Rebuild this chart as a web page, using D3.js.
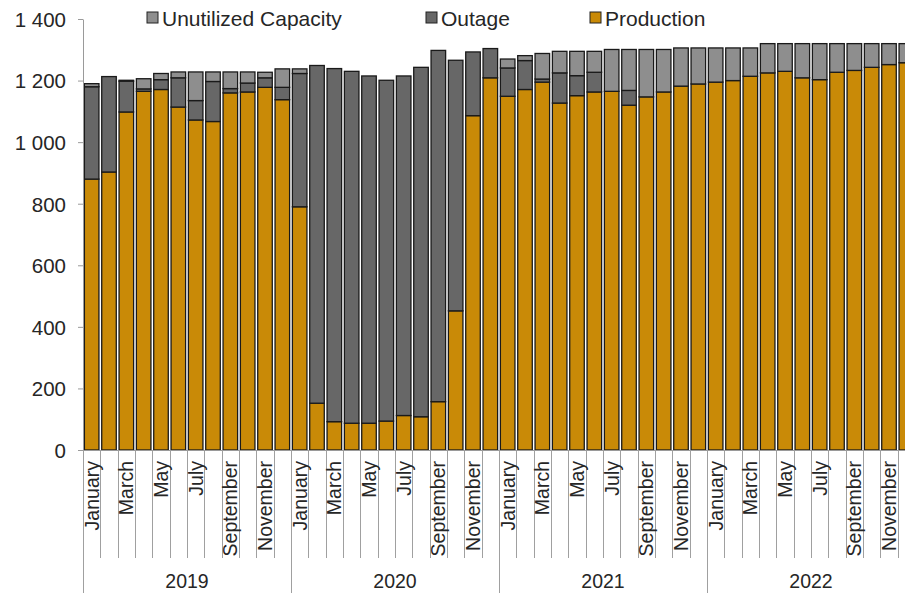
<!DOCTYPE html>
<html>
<head>
<meta charset="utf-8">
<script src="https://cdn.jsdelivr.net/npm/d3@7"></script>
<style>
  html, body { margin: 0; padding: 0; background: #fff; }
  svg { display: block; font-family: "Liberation Sans", Arial, sans-serif; }
</style>
</head>
<body>
<svg id="chart" width="905" height="593"></svg>
<script>
const years = ["2019", "2020", "2021", "2022"];
const monthNames = ["January","February","March","April","May","June","July","August","September","October","November","December"];
const yTicks = [0, 200, 400, 600, 800, 1000, 1200, 1400];

const production = [
  880, 903, 1098, 1165, 1171, 1114, 1072, 1067, 1160, 1163, 1178, 1138,
  790, 152, 92, 87, 87, 94, 112, 108, 157, 452, 1086, 1209,
  1149, 1171, 1195, 1127, 1151, 1163, 1165, 1120, 1147, 1163, 1182, 1189,
  1195, 1200, 1214, 1225, 1230, 1209, 1203, 1227, 1233, 1243, 1252, 1258
];
const outage = [
  300, 310, 100, 8, 32, 95, 63, 130, 14, 29, 31, 40,
  433, 1097, 1147, 1143, 1128, 1107, 1103, 1135, 1141, 814, 207, 95,
  92, 94, 10, 98, 65, 64, 0, 48, 0, 0, 0, 0,
  0, 0, 0, 0, 0, 0, 0, 0, 0, 0, 0, 0
];
const unutilized = [
  10, 0, 3, 33, 20, 19, 93, 31, 54, 36, 18, 60,
  15, 0, 0, 0, 0, 0, 0, 0, 0, 0, 0, 0,
  29, 16, 83, 70, 79, 68, 136, 133, 154, 138, 124, 117,
  111, 106, 92, 95, 90, 111, 117, 93, 87, 77, 68, 62
];

const seriesKeys = ["production", "outage", "unutilized"];
const seriesLabels = { unutilized: "Unutilized Capacity", outage: "Outage", production: "Production" };
const colors = { production: "#C98A07", outage: "#676767", unutilized: "#8E8E8E" };

(function () {
const rows = [];
years.forEach((yr, yi) => monthNames.forEach((m, mi) => {
  const i = yi * 12 + mi;
  rows.push({ id: yr + "-" + m, year: yr, month: m, mi: mi,
    production: production[i], outage: outage[i], unutilized: unutilized[i] });
}));

const svg = d3.select("#chart");
const mLeft = 83, mRight = 915, mTop = 19, mBottom = 450;
const textColor = "#262626";

const x = d3.scaleBand().domain(rows.map(d => d.id)).range([mLeft, mRight])
  .paddingInner(0.16).paddingOuter(0.08);
const y = d3.scaleLinear().domain([0, 1400]).range([mBottom, mTop]);

const fmt = d3.formatLocale({ decimal: ".", thousands: " ", grouping: [3], currency: ["", ""] }).format(",");

// bars
const stacked = d3.stack().keys(seriesKeys)(rows);
svg.append("g").selectAll("g").data(stacked).join("g")
  .attr("fill", s => colors[s.key])
  .selectAll("rect").data(s => s).join("rect")
  .attr("x", d => x(d.data.id))
  .attr("width", x.bandwidth())
  .attr("y", d => y(d[1]))
  .attr("height", d => Math.max(0, y(d[0]) - y(d[1])))
  .attr("stroke", "#1a1a1a")
  .attr("stroke-width", d => (d[1] - d[0]) > 0 ? 1.3 : 0);

// y axis
const yAxis = d3.axisLeft(y).tickValues(yTicks).tickFormat(fmt).tickSize(5).tickSizeOuter(0).tickPadding(12);
const gy = svg.append("g").attr("transform", `translate(${mLeft},0)`).call(yAxis);
gy.select(".domain").attr("stroke", "#9a9a9a");
gy.selectAll(".tick line").attr("stroke", "#9a9a9a");
gy.selectAll(".tick text").attr("fill", textColor).style("font-size", "20.5px").attr("dy", "0.36em")
  .style("font-family", "'Liberation Sans', Arial, sans-serif");

// x baseline
svg.append("line").attr("x1", mLeft).attr("x2", mRight).attr("y1", mBottom + 0.5).attr("y2", mBottom + 0.5)
  .attr("stroke", "#9a9a9a");

// month separators & labels
const xAxisG = svg.append("g");
d3.range(0, rows.length + 1).forEach(i => {
  const xx = Math.round(mLeft + i * (mRight - mLeft) / rows.length) + 0.5;
  const isYear = i % 12 === 0;
  xAxisG.append("line").attr("x1", xx).attr("x2", xx)
    .attr("y1", mBottom).attr("y2", isYear ? 593 : 558)
    .attr("stroke", "#a0a0a0").attr("stroke-width", 1);
});
xAxisG.selectAll("text.month").data(rows.filter(d => d.mi % 2 === 0)).join("text")
  .attr("class", "month")
  .attr("transform", d => `translate(${x(d.id) + x.bandwidth() / 2},461) rotate(-90)`)
  .attr("text-anchor", "end").attr("dy", "0.36em")
  .attr("fill", textColor).style("font-size", "19.5px")
  .text(d => d.month);

// year labels
const yearW = (mRight - mLeft) / years.length;
xAxisG.selectAll("text.year").data(years).join("text")
  .attr("class", "year")
  .attr("x", (d, i) => mLeft + yearW * (i + 0.5))
  .attr("y", 588)
  .attr("text-anchor", "middle").attr("fill", textColor).style("font-size", "19.5px")
  .text(d => d);

// legend
const legendItems = [
  { key: "unutilized", x: 147 },
  { key: "outage", x: 426 },
  { key: "production", x: 590 }
];
const lg = svg.append("g");
legendItems.forEach(it => {
  lg.append("rect").attr("x", it.x).attr("y", 12).attr("width", 11).attr("height", 11)
    .attr("fill", colors[it.key]).attr("stroke", "#222").attr("stroke-width", 1);
  lg.append("text").attr("x", it.x + 15).attr("y", 18).attr("dy", "0.36em")
    .attr("fill", textColor).style("font-size", "21px").text(seriesLabels[it.key]);
});
})();
</script>
</body>
</html>
